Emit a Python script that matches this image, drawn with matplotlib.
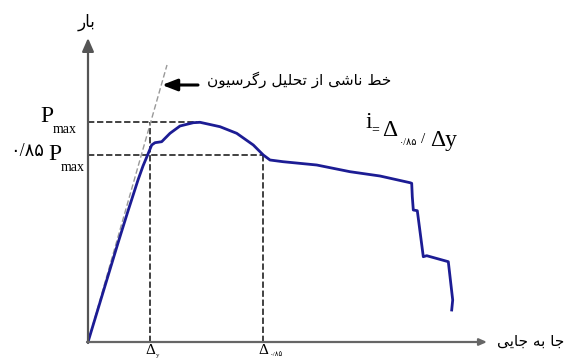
import matplotlib
matplotlib.use('Agg')
import matplotlib.pyplot as plt

# ---- data (displacement and load in drawing units) ----
disp = [0, 10, 20, 30, 40, 50, 55, 60, 63.7, 67, 73.7, 82, 92, 105.3, 112,
        132, 148.7, 165.3, 175.3, 182, 195, 228.7, 262, 292, 322, 323.7,
        324.3, 325.3, 329.3, 335.3, 338.7, 360.3, 364.7, 363.7]
load = [0, 33, 66, 99, 131, 162, 176, 188, 197, 199.3, 200.3, 208.7, 216,
        219.3, 219.7, 215.3, 208.7, 197, 187, 182, 180.3, 177, 170.3, 166,
        159.3, 158.7, 145.3, 132, 131.3, 85.3, 86.3, 80.3, 42, 32]
p_max = 220
p_85 = 0.85 * p_max
d_y = 62
d_85 = 175
reg_line = ([0, 79], [0, 277])

y_label = 'بار'
x_label = 'جا به جایی'
reg_label = 'خط ناشی از تحلیل رگرسیون'
fa_085 = '۰/۸۵'

# ---- minimal Arabic/Persian shaping (matplotlib has no shaping/bidi) ----
# forms: isolated, final, initial, medial (None -> letter does not join forward)
FORMS = {
    'ا': (0xFE8D, 0xFE8E, None, None),
    'ب': (0xFE8F, 0xFE90, 0xFE91, 0xFE92),
    'ت': (0xFE95, 0xFE96, 0xFE97, 0xFE98),
    'ج': (0xFE9D, 0xFE9E, 0xFE9F, 0xFEA0),
    'ح': (0xFEA1, 0xFEA2, 0xFEA3, 0xFEA4),
    'خ': (0xFEA5, 0xFEA6, 0xFEA7, 0xFEA8),
    'ر': (0xFEAD, 0xFEAE, None, None),
    'ز': (0xFEAF, 0xFEB0, None, None),
    'س': (0xFEB1, 0xFEB2, 0xFEB3, 0xFEB4),
    'ش': (0xFEB5, 0xFEB6, 0xFEB7, 0xFEB8),
    'ط': (0xFEC1, 0xFEC2, 0xFEC3, 0xFEC4),
    'ل': (0xFEDD, 0xFEDE, 0xFEDF, 0xFEE0),
    'ن': (0xFEE5, 0xFEE6, 0xFEE7, 0xFEE8),
    'ه': (0xFEE9, 0xFEEA, 0xFEEB, 0xFEEC),
    'و': (0xFEED, 0xFEEE, None, None),
    'ی': (0xFBFC, 0xFBFD, 0xFBFE, 0xFBFF),
    'گ': (0xFB92, 0xFB93, 0xFB94, 0xFB95),
}


def shape(s):
    out = []
    for i, ch in enumerate(s):
        if ch not in FORMS:
            out.append(ch)
            continue
        prev = s[i - 1] if i > 0 else ''
        nxt = s[i + 1] if i + 1 < len(s) else ''
        join_prev = prev in FORMS and FORMS[prev][2] is not None
        join_next = FORMS[ch][2] is not None and nxt in FORMS
        iso, fin, ini, med = FORMS[ch]
        if join_prev and join_next:
            c = med
        elif join_prev:
            c = fin
        elif join_next:
            c = ini
        else:
            c = iso
        out.append(chr(c))
    return ''.join(out)[::-1]


serif = ['Liberation Serif', 'DejaVu Sans']
fa_font = ['DejaVu Sans']

fig = plt.figure(figsize=(5.72, 3.58), dpi=100)
ax = fig.add_axes([0, 0, 1, 1])
ax.set_xlim(-88, 484)
ax.set_ylim(-16, 342)
ax.axis('off')

# axes with arrows
ax.annotate('', xy=(0, 304), xytext=(0, -1),
            arrowprops=dict(arrowstyle='-|>,head_length=0.8,head_width=0.35',
                            color='#555555', lw=1.6, shrinkA=0, shrinkB=0))
ax.annotate('', xy=(399, 0), xytext=(-1, 0),
            arrowprops=dict(arrowstyle='-|>,head_length=0.45,head_width=0.2',
                            color='#666666', lw=1.6, shrinkA=0, shrinkB=0))

# guide lines
dash_kw = dict(color='#333333', lw=1.3, dashes=(3.5, 1.5))
ax.plot([0, 109], [p_max, p_max], **dash_kw)
ax.plot([0, d_85], [p_85, p_85], **dash_kw)
ax.plot([d_y, d_y], [0, p_max], **dash_kw)
ax.plot([d_85, d_85], [0, p_85], **dash_kw)
ax.plot(reg_line[0], reg_line[1], color='#999999', lw=1.0, dashes=(4, 2))

# test curve
ax.plot(disp, load, color='#1c1c94', lw=2.0, solid_joinstyle='round')

# labels
ax.text(-1, 320, shape(y_label), family=fa_font, fontsize=12,
        ha='center', va='center')
ax.text(409, 1, shape(x_label), family=fa_font, fontsize=11,
        ha='left', va='center')
ax.text(119, 262, shape(reg_label), family=fa_font, fontsize=11,
        ha='left', va='center')
ax.annotate('', xy=(74, 257), xytext=(110, 257),
            arrowprops=dict(arrowstyle='-|>,head_length=0.9,head_width=0.35',
                            color='black', lw=2.2, shrinkA=0, shrinkB=0))

# P max labels
t = ax.text(-48, 220, 'P', family=serif, fontsize=17, ha='left',
            va='baseline')
ax.annotate('max', xy=(1, 0), xycoords=t, xytext=(0, -4),
            textcoords='offset points', family=serif, fontsize=10,
            ha='left', va='baseline')
t = ax.text(-78, 186, fa_085, family=serif, fontsize=13, ha='left',
            va='baseline')
t = ax.annotate('P', xy=(1, 0), xycoords=t, xytext=(3, 0),
                textcoords='offset points', family=serif, fontsize=17,
                ha='left', va='baseline')
ax.annotate('max', xy=(1, 0), xycoords=t, xytext=(0, -4),
            textcoords='offset points', family=serif, fontsize=10,
            ha='left', va='baseline')

# ductility index
t = ax.text(277, 214, 'i', family=serif, fontsize=17, ha='left',
            va='baseline')
t = ax.annotate('=', xy=(1, 0), xycoords=t, xytext=(0, 0),
                textcoords='offset points', family=serif, fontsize=10,
                ha='left', va='baseline')
t = ax.annotate('\u0394', xy=(1, 0), xycoords=t, xytext=(2, 0),
                textcoords='offset points', family=serif, fontsize=17,
                ha='left', va='baseline')
t = ax.annotate(fa_085, xy=(1, 0), xycoords=t, xytext=(1, -3),
                textcoords='offset points', family=serif, fontsize=7,
                ha='left', va='baseline')
t = ax.annotate('/', xy=(1, 0), xycoords=t, xytext=(3, 3),
                textcoords='offset points', family=serif, fontsize=11,
                ha='left', va='baseline')
ax.annotate('\u0394y', xy=(1, 0), xycoords=t, xytext=(3, 0),
            textcoords='offset points', family=serif, fontsize=17,
            ha='left', va='baseline')

# bottom delta labels (sitting just under the axis as in the original)
t = ax.text(d_y, -11.5, '\u0394', family=serif, fontsize=11, ha='center',
            va='baseline')
ax.annotate('y', xy=(1, 0), xycoords=t, xytext=(1, 0),
            textcoords='offset points', family=serif, fontsize=5,
            ha='left', va='baseline')
t = ax.text(d_85, -11.5, '\u0394', family=serif, fontsize=11, ha='center',
            va='baseline')
ax.annotate(fa_085, xy=(1, 0), xycoords=t, xytext=(1, 0),
            textcoords='offset points', family=serif, fontsize=5,
            ha='left', va='baseline')

fig.savefig('out.png', dpi=100, facecolor='white')
